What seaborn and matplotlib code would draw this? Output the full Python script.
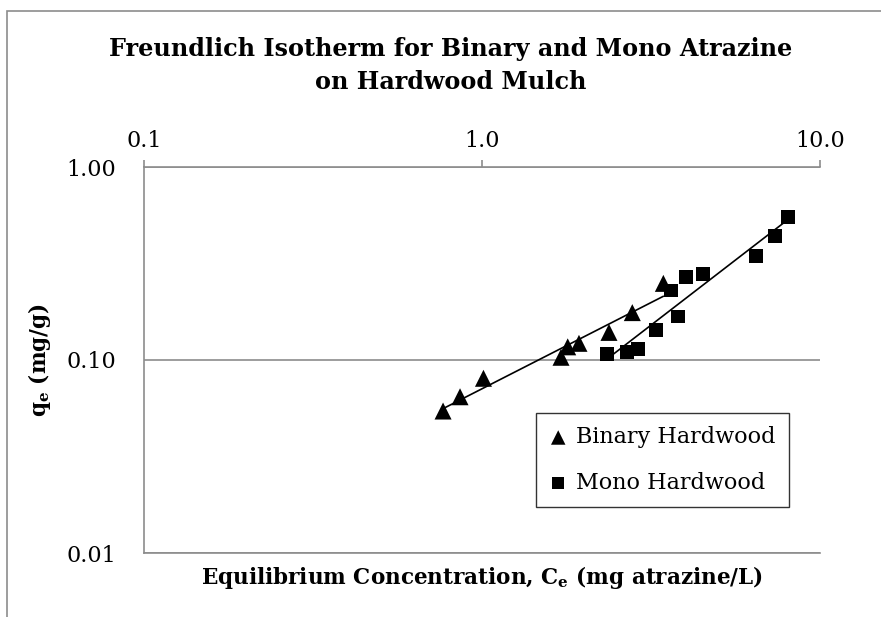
import numpy as np
import pandas as pd
import matplotlib
matplotlib.use("Agg")
import matplotlib.pyplot as plt
import seaborn as sns
from matplotlib.patches import Rectangle
from matplotlib.ticker import FixedLocator, FixedFormatter, NullLocator

# Equilibrium data (Ce in mg/L, qe in mg/g)
binary_ce = [0.767, 0.861, 1.01, 1.713, 1.793, 1.936, 2.375, 2.784, 3.44]
binary_qe = [0.0544, 0.0645, 0.0804, 0.1033, 0.117, 0.122, 0.139, 0.176, 0.2495]
mono_ce = [2.34, 2.68, 2.89, 3.27, 3.80, 3.62, 4.01, 4.50, 6.45, 7.35, 8.04]
mono_qe = [0.107, 0.110, 0.114, 0.143, 0.168, 0.229, 0.270, 0.279, 0.347, 0.441, 0.553]

series_names = ["Binary Hardwood", "Mono Hardwood"]
x_ticks = [0.1, 1.0, 10.0]
x_tick_labels = ["0.1", "1.0", "10.0"]
y_ticks = [0.01, 0.1, 1.0]
y_tick_labels = ["0.01", "0.10", "1.00"]

sns.set_theme(style="white")
plt.rcParams["font.family"] = ["DejaVu Serif"]
plt.rcParams["mathtext.fontset"] = "dejavuserif"

W, H = 881, 617
fig = plt.figure(figsize=(W / 100, H / 100), dpi=100)
fig.patch.set_facecolor("white")

# outer chart border
fig.patches.append(Rectangle((7 / W, -0.1), 1.2, (H - 11) / H + 0.1,
                             transform=fig.transFigure, fill=False,
                             edgecolor="#8c8c8c", linewidth=1.2))

ax = fig.add_axes([144 / W, (H - 553) / H, (820 - 144) / W, (553 - 167) / H])
ax.set_facecolor("white")

df_b = pd.DataFrame({"Ce": binary_ce, "qe": binary_qe, "series": series_names[0]})
df_m = pd.DataFrame({"Ce": mono_ce, "qe": mono_qe, "series": series_names[1]})

# Freundlich power-law trendlines fitted in log-log space
for df in (df_b, df_m):
    slope, icpt = np.polyfit(np.log10(df["Ce"]), np.log10(df["qe"]), 1)
    xs = np.array([df["Ce"].min(), df["Ce"].max()])
    fit = pd.DataFrame({"Ce": xs, "qe": 10 ** (icpt + slope * np.log10(xs))})
    sns.lineplot(data=fit, x="Ce", y="qe", ax=ax, color="black", linewidth=1.2,
                 legend=False, zorder=2)

sns.scatterplot(data=df_b, x="Ce", y="qe", ax=ax, marker="^", s=150,
                color="black", edgecolor="none", label=series_names[0], zorder=3)
sns.scatterplot(data=df_m, x="Ce", y="qe", ax=ax, marker="s", s=100,
                color="black", edgecolor="none", label=series_names[1], zorder=3)

ax.set_xscale("log")
ax.set_yscale("log")
ax.set_xlim(0.1, 10)
ax.set_ylim(0.01, 1)

ax.xaxis.tick_top()
ax.xaxis.set_major_locator(FixedLocator(x_ticks))
ax.xaxis.set_major_formatter(FixedFormatter(x_tick_labels))
ax.xaxis.set_minor_locator(NullLocator())
ax.yaxis.set_major_locator(FixedLocator(y_ticks))
ax.yaxis.set_major_formatter(FixedFormatter(y_tick_labels))
ax.yaxis.set_minor_locator(NullLocator())

grey = "#8c8c8c"
ax.tick_params(axis="x", which="major", direction="out", length=5, width=1.2,
               color=grey, pad=6, labelsize=16, labelcolor="black")
ax.tick_params(axis="y", which="major", length=0, pad=20, labelsize=16,
               labelcolor="black")
ax.grid(axis="y", color=grey, linewidth=1.2)
ax.grid(axis="x", visible=False)
for side in ("left", "top", "bottom"):
    ax.spines[side].set_visible(True)
    ax.spines[side].set_color(grey)
    ax.spines[side].set_linewidth(1.2)
ax.spines["right"].set_visible(False)

ax.xaxis.set_label_position("bottom")
ax.set_xlabel(r"Equilibrium Concentration, C$_\mathbf{e}$ (mg atrazine/L)",
              fontsize=15.5, fontweight="bold", color="black", labelpad=8)
ax.set_ylabel(r"q$_\mathbf{e}$ (mg/g)", fontsize=15.5, fontweight="bold",
              color="black", labelpad=10)

fig.text(451 / W, 1 - 37 / H,
         "Freundlich Isotherm for Binary and Mono Atrazine\non Hardwood Mulch",
         ha="center", va="top", fontsize=17.2, fontweight="bold",
         color="black", linespacing=1.45)

leg = ax.legend(loc="upper left", bbox_to_anchor=(536 / W, 1 - 413 / H),
                bbox_transform=fig.transFigure, borderaxespad=0,
                fontsize=16, frameon=True, fancybox=False, markerscale=0.85,
                handlelength=0.8, handletextpad=0.4, borderpad=0.6,
                labelspacing=1.05)
leg.get_frame().set_edgecolor("black")
leg.get_frame().set_linewidth(1.0)
for t in leg.get_texts():
    t.set_color("black")

fig.savefig("out.png", dpi=100, facecolor="white")
